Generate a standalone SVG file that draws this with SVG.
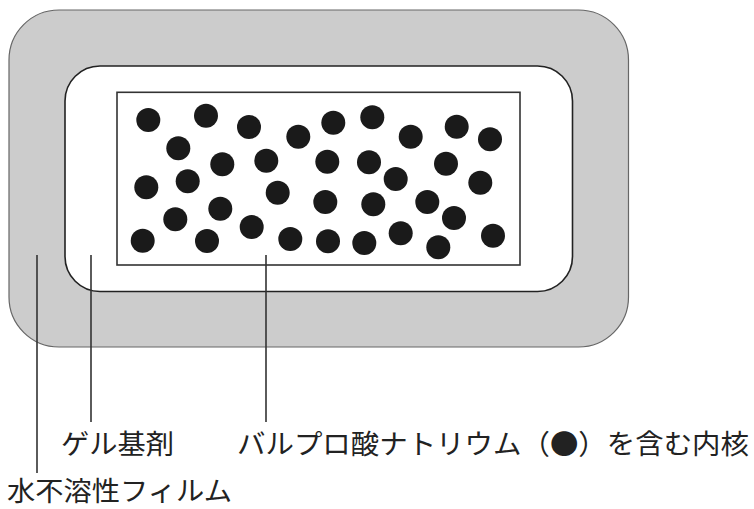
<svg xmlns="http://www.w3.org/2000/svg" width="754" height="509" viewBox="0 0 754 509">
<style>
.dot{fill:#1a1a1a}
.lead{stroke:#333;stroke-width:1.6;fill:none}
.lbl{font-family:"Noto Sans CJK JP","Noto Sans CJK SC",sans-serif;font-size:27.5px;fill:#222}
</style>
<rect width="754" height="509" fill="#fff"/>
<g id="film">
<rect x="9" y="10" width="619.5" height="337" rx="50" ry="50" fill="#cccccc" stroke="#666" stroke-width="1.2"/>
</g>
<g id="gel">
<rect x="65" y="66" width="507.5" height="225.5" rx="35" ry="35" fill="#ffffff" stroke="#222" stroke-width="1.6"/>
</g>
<g id="core">
<rect x="117" y="92.3" width="403" height="172.7" fill="#ffffff" stroke="#333" stroke-width="1.6"/>
<g class="dots">
<circle class="dot" cx="148.3" cy="120" r="12"/>
<circle class="dot" cx="206" cy="115.7" r="12"/>
<circle class="dot" cx="249" cy="127" r="12"/>
<circle class="dot" cx="298.3" cy="136.7" r="12"/>
<circle class="dot" cx="333.3" cy="122.7" r="12"/>
<circle class="dot" cx="372.3" cy="117.3" r="12"/>
<circle class="dot" cx="410.7" cy="136.7" r="12"/>
<circle class="dot" cx="456.7" cy="126.7" r="12"/>
<circle class="dot" cx="490" cy="139.3" r="12"/>
<circle class="dot" cx="178.3" cy="148.3" r="12"/>
<circle class="dot" cx="222.3" cy="164.3" r="12"/>
<circle class="dot" cx="266.3" cy="160.7" r="12"/>
<circle class="dot" cx="327.3" cy="161.7" r="12"/>
<circle class="dot" cx="369" cy="162.3" r="12"/>
<circle class="dot" cx="446" cy="163.7" r="12"/>
<circle class="dot" cx="395.7" cy="179" r="12"/>
<circle class="dot" cx="146.3" cy="187.3" r="12"/>
<circle class="dot" cx="187.7" cy="181.3" r="12"/>
<circle class="dot" cx="277.7" cy="192.7" r="12"/>
<circle class="dot" cx="325.3" cy="202" r="12"/>
<circle class="dot" cx="373.3" cy="204.3" r="12"/>
<circle class="dot" cx="427.3" cy="202" r="12"/>
<circle class="dot" cx="480.3" cy="182.7" r="12"/>
<circle class="dot" cx="220.3" cy="208.7" r="12"/>
<circle class="dot" cx="175.3" cy="219.3" r="12"/>
<circle class="dot" cx="454" cy="218" r="12"/>
<circle class="dot" cx="251.7" cy="227" r="12"/>
<circle class="dot" cx="142.7" cy="240.7" r="12"/>
<circle class="dot" cx="207" cy="241" r="12"/>
<circle class="dot" cx="290.3" cy="239" r="12"/>
<circle class="dot" cx="328" cy="241.3" r="12"/>
<circle class="dot" cx="364.3" cy="243" r="12"/>
<circle class="dot" cx="400.7" cy="233.3" r="12"/>
<circle class="dot" cx="438.3" cy="247.3" r="12"/>
<circle class="dot" cx="493" cy="235.7" r="12"/>
</g>
</g>
<g id="connectors">
<line class="lead" x1="37" y1="255" x2="37" y2="473"/>
<line class="lead" x1="91" y1="255" x2="91" y2="422"/>
<line class="lead" x1="266" y1="255" x2="266" y2="422"/>
</g>
<g id="label-gel">
<text class="lbl" x="61" y="454" textLength="113" lengthAdjust="spacingAndGlyphs">ゲル基剤</text>
</g>
<g id="label-core">
<text class="lbl" x="237" y="454" textLength="512" lengthAdjust="spacingAndGlyphs">バルプロ酸ナトリウム（●）を含む内核</text>
</g>
<g id="label-film">
<text class="lbl" x="7" y="501" style="font-size:27px" textLength="225" lengthAdjust="spacingAndGlyphs">水不溶性フィルム</text>
</g>
</svg>
